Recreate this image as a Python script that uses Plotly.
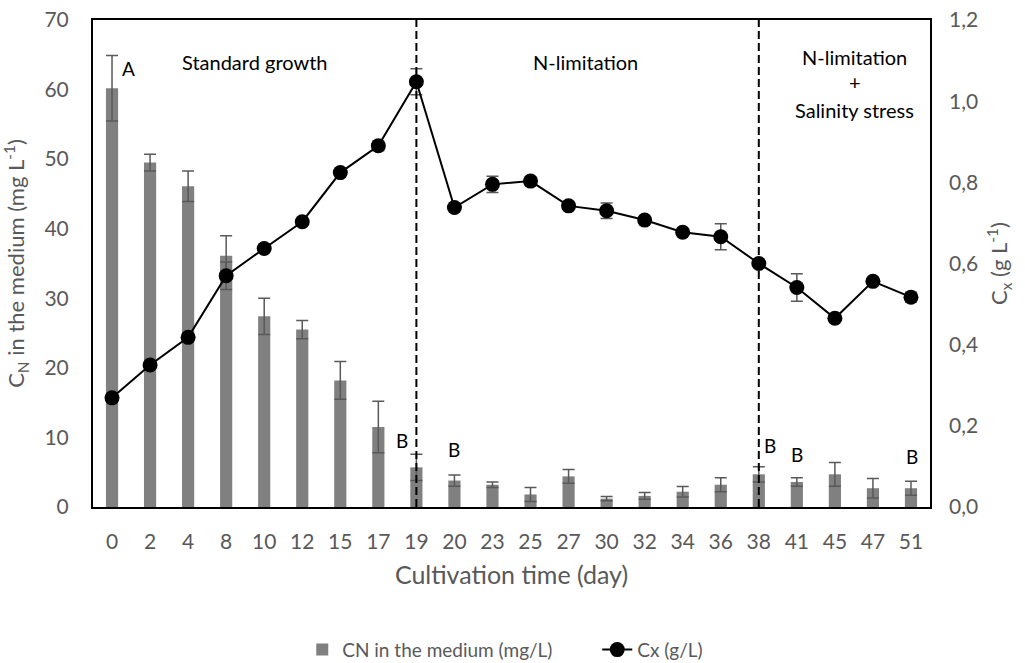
import plotly.graph_objects as go

# Sampling days (categorical x axis)
days = ["0", "2", "4", "8", "10", "12", "15", "17", "19", "20", "23",
        "25", "27", "30", "32", "34", "36", "38", "41", "45", "47", "51"]

# Nitrogen concentration in the medium (mg/L) and its standard deviation
cn_values = [60.2, 49.5, 46.1, 36.1, 27.4, 25.5, 18.2, 11.5, 5.7, 3.8, 3.2,
             1.8, 4.4, 1.2, 1.6, 2.2, 3.2, 4.7, 3.6, 4.7, 2.7, 2.7]
cn_errors = [4.7, 1.2, 2.2, 2.9, 2.6, 1.3, 2.7, 3.7, 1.9, 0.8, 0.4,
             1.0, 1.0, 0.3, 0.5, 0.75, 1.0, 1.1, 0.6, 1.7, 1.4, 1.0]

# Biomass concentration Cx (g/L) and its standard deviation
cx_values = [0.269, 0.350, 0.418, 0.570, 0.637, 0.703, 0.824, 0.890, 1.048,
             0.738, 0.795, 0.803, 0.742, 0.730, 0.707, 0.677, 0.666, 0.600,
             0.541, 0.465, 0.556, 0.517]
cx_errors = [0.0, 0.0, 0.0, 0.034, 0.0, 0.0, 0.0, 0.012, 0.032,
             0.0, 0.020, 0.010, 0.0, 0.019, 0.0, 0.0, 0.032, 0.0,
             0.034, 0.0, 0.0, 0.012]

# Days at which the culture regime changes
phase_breaks = ["19", "38"]

# Statistical group letters: day, letter, y value, horizontal shift (px)
group_days = ["0", "19", "20", "38", "41", "51"]
group_letters = ["A", "B", "B", "B", "B", "B"]
group_y = [63.0, 9.6, 8.3, 8.9, 7.5, 7.2]
group_shift = [16, -14, 0, 11, 0, 1]

FONT = "Lato"
GREY_TXT = "#595959"

fig = go.Figure()

fig.add_trace(go.Bar(
    x=days, y=cn_values, name="CN in the medium (mg/L)",
    marker=dict(color="#808080", line=dict(width=0)),
    error_y=dict(type="data", array=cn_errors, visible=True,
                 color="#595959", thickness=1.5, width=6),
    yaxis="y",
))

fig.add_trace(go.Scatter(
    x=days, y=cx_values, name="Cx (g/L)", mode="lines+markers",
    line=dict(color="black", width=2),
    marker=dict(color="black", size=15),
    error_y=dict(type="data", array=cx_errors, visible=True,
                 color="#595959", thickness=1.5, width=6),
    yaxis="y2",
))

# Dashed dividers between culture phases
for d in phase_breaks:
    fig.add_shape(type="line", xref="x", yref="paper",
                  x0=days.index(d), x1=days.index(d), y0=0, y1=1,
                  line=dict(color="black", width=2, dash="8px,4px"), layer="above")

# Phase labels
phase_text = [("Standard growth", 0.194, 0.914),
              ("N-limitation", 0.588, 0.914),
              ("N-limitation", 0.910, 0.923),
              ("+", 0.910, 0.872),
              ("Salinity stress", 0.910, 0.815)]
for txt, px, py in phase_text:
    fig.add_annotation(text=txt, xref="paper", yref="paper", x=px, y=py,
                       showarrow=False, font=dict(family=FONT, size=20, color="black"),
                       xanchor="center", yanchor="middle")

for d, letter, yv, sh in zip(group_days, group_letters, group_y, group_shift):
    fig.add_annotation(text=letter, x=days.index(d), y=yv, xref="x", yref="y",
                       xshift=sh, showarrow=False,
                       font=dict(family=FONT, size=19, color="black"))

fig.update_layout(
    width=1025, height=663,
    margin=dict(l=93, r=95, t=20, b=156, autoexpand=False),
    paper_bgcolor="white", plot_bgcolor="white",
    separators=", ",
    bargap=0.68,
    font=dict(family=FONT, color=GREY_TXT),
    showlegend=True,
    legend=dict(orientation="h", x=0.25, xanchor="left",
                yref="container", y=0.02, yanchor="middle",
                font=dict(family=FONT, size=19, color=GREY_TXT),
                entrywidth=250, traceorder="normal"),
    xaxis=dict(
        type="category", range=[-0.5, len(days) - 0.5],
        showline=True, mirror=True, linecolor="black",
        linewidth=2, ticks="", showgrid=False, zeroline=False,
        tickfont=dict(family=FONT, size=21, color=GREY_TXT),
        ticklabelstandoff=15,
        title=dict(text="Cultivation time (day)", standoff=14,
                   font=dict(family=FONT, size=25, color=GREY_TXT)),
    ),
    yaxis=dict(
        range=[0, 70], dtick=10, showline=True, mirror=True, linecolor="black",
        linewidth=2, ticks="", showgrid=False, zeroline=False,
        tickfont=dict(family=FONT, size=21, color=GREY_TXT),
        ticklabelstandoff=18,
        title=dict(text="C<sub>N</sub> in the medium (mg L<sup>-1</sup>)", standoff=14,
                   font=dict(family=FONT, size=22, color=GREY_TXT)),
    ),
    yaxis2=dict(
        range=[0, 1.2], dtick=0.2, tickformat=".1f", overlaying="y", side="right",
        showline=False, ticks="", showgrid=False, zeroline=False,
        tickfont=dict(family=FONT, size=21, color=GREY_TXT),
        ticklabelstandoff=18,
        title=dict(text="C<sub>x</sub> (g L<sup>-1</sup>)", standoff=14,
                   font=dict(family=FONT, size=22, color=GREY_TXT)),
    ),
)

fig.write_html("out.html")
